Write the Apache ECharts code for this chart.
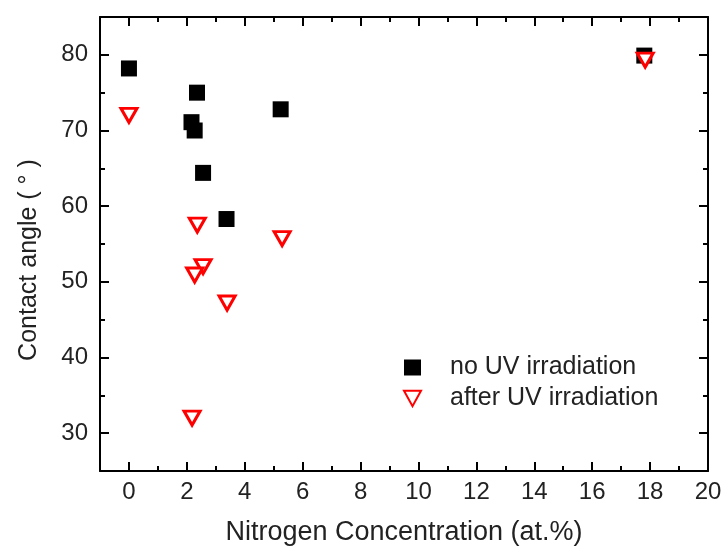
<!DOCTYPE html>
<html>
<head>
<meta charset="utf-8">
<script src="https://cdn.jsdelivr.net/npm/echarts@6/dist/echarts.min.js"></script>
<style>
html, body { margin: 0; padding: 0; background: #fff; }
#main { width: 723px; height: 547px; }
</style>
</head>
<body>
<div id="main"></div>
<script>
// nitrogen concentration (at.%) and contact angle (deg)
var noUvX = [0, 2.35, 2.16, 2.27, 2.56, 3.37, 5.24, 17.8];
var noUvY = [78.2, 75.0, 71.1, 70.0, 64.4, 58.3, 72.8, 79.9];
var afterUvX = [0, 2.36, 5.29, 2.56, 2.27, 3.39, 2.18, 17.83];
var afterUvY = [72.0, 57.5, 55.7, 52.0, 50.9, 47.2, 32.0, 79.3];

var xMajor = [0, 2, 4, 6, 8, 10, 12, 14, 16, 18, 20];
var xMinor = [-1, 1, 3, 5, 7, 9, 11, 13, 15, 17, 19];
var yMajor = [30, 40, 50, 60, 70, 80];
var yMinor = [25, 35, 45, 55, 65, 75, 85];

var seriesNames = ['no UV irradiation', 'after UV irradiation'];

function pairs(xs, ys) {
	var out = [];
	for (var i = 0; i < xs.length; i++) out.push([xs[i], ys[i]]);
	return out;
}

var font = 'Arial, "Liberation Sans", sans-serif';
var triPath = 'path://M0,0 L10,0 L5,9 Z';

function makeX(pos, ticks, len, showLabel, showLine) {
	return {
		type: 'value', position: pos, min: -1, max: 20,
		axisLine: { show: showLine, onZero: false, lineStyle: { color: '#000', width: 2 } },
		axisTick: { show: true, inside: true, length: len, customValues: ticks, lineStyle: { color: '#000', width: 2 } },
		axisLabel: { show: showLabel, customValues: xMajor, margin: 9, color: '#222', fontSize: 24, fontFamily: font },
		splitLine: { show: false }
	};
}
function makeY(pos, ticks, len, showLabel, showLine) {
	return {
		type: 'value', position: pos, min: 25, max: 85,
		axisLine: { show: showLine, onZero: false, lineStyle: { color: '#000', width: 2 } },
		axisTick: { show: true, inside: true, length: len, customValues: ticks, lineStyle: { color: '#000', width: 2 } },
		axisLabel: { show: showLabel, customValues: yMajor, margin: 12, color: '#222', fontSize: 24, fontFamily: font },
		splitLine: { show: false }
	};
}

var xAxes = [
	makeX('bottom', xMajor, 9, true, true),
	makeX('bottom', xMinor, 5, false, false),
	makeX('top', xMajor, 9, false, true),
	makeX('top', xMinor, 5, false, false)
];
xAxes[0].name = 'Nitrogen Concentration (at.%)';
xAxes[0].nameLocation = 'middle';
xAxes[0].nameGap = 48;
xAxes[0].nameTextStyle = { color: '#222', fontSize: 27, fontFamily: font };

var yAxes = [
	makeY('left', yMajor, 9, true, true),
	makeY('left', yMinor, 5, false, false),
	makeY('right', yMajor, 9, false, true),
	makeY('right', yMinor, 5, false, false)
];
yAxes[0].name = 'Contact angle ( ° )';
yAxes[0].nameLocation = 'middle';
yAxes[0].nameGap = 58;
yAxes[0].nameTextStyle = { color: '#222', fontSize: 25, fontFamily: font, padding: [0, 32, 0, 0] };

var myChart = echarts.init(document.getElementById('main'));
var option = {
	backgroundColor: '#fff',
	animation: false,
	grid: { left: 100, right: 15, top: 17, bottom: 76, outerBoundsMode: 'none' },
	xAxis: xAxes,
	yAxis: yAxes,
	legend: {
		orient: 'vertical', left: 398, top: 350,
		itemWidth: 17, itemHeight: 16, itemGap: 6,
		textStyle: { color: '#222', fontSize: 25, fontFamily: font, padding: [0, 0, 0, 24] },
		data: seriesNames
	},
	series: [
		{
			name: seriesNames[0], type: 'scatter',
			symbol: 'rect', symbolSize: 16,
			itemStyle: { color: '#000', opacity: 1 },
			data: pairs(noUvX, noUvY)
		},
		{
			name: seriesNames[1], type: 'scatter',
			symbol: triPath, symbolSize: [16, 14],
			itemStyle: { color: '#fff', borderColor: '#f00', borderWidth: 3, opacity: 1 },
			data: pairs(afterUvX, afterUvY)
		}
	]
};
myChart.setOption(option);
</script>
</body>
</html>
